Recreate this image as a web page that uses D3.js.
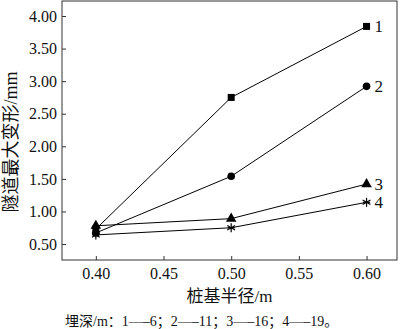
<!DOCTYPE html>
<html>
<head>
<meta charset="utf-8">
<script src="https://cdn.jsdelivr.net/npm/d3@7/dist/d3.min.js"></script>
<style>
  html, body { margin: 0; padding: 0; background: #fff; }
  svg { display: block; }
  svg text { font-family: "Liberation Serif", "DejaVu Serif", "Noto Sans CJK SC", serif !important; fill: #111; }
</style>
</head>
<body>
<svg id="chart" width="400" height="329"></svg>
<script>
// Pile radius (m) on the x axis
const radii = [0.40, 0.50, 0.60];
// Max tunnel deformation (mm) for each burial depth case
const series1 = [0.73, 2.75, 3.84]; // depth 6 m
const series2 = [0.67, 1.54, 2.92]; // depth 11 m
const series3 = [0.78, 0.89, 1.42]; // depth 16 m
const series4 = [0.64, 0.75, 1.14]; // depth 19 m
const seriesNames = ["1", "2", "3", "4"];
const markerTypes = ["square", "circle", "triangle", "asterisk"];
const xTicks = [0.40, 0.45, 0.50, 0.55, 0.60];
const yTicks = [0.50, 1.00, 1.50, 2.00, 2.50, 3.00, 3.50, 4.00];
const xTitle = "桩基半径/m";
const yTitle = "隧道最大变形/mm";
const note = "埋深/m：1—–6；2—–11；3—–16；4—–19。";

const allSeries = [series1, series2, series3, series4];

const svg = d3.select("#chart");
const plotLeft = 62, plotRight = 397, plotTop = 1, plotBottom = 260;

const x = d3.scaleLinear().domain([0.375, 0.6225]).range([plotLeft, plotRight]);
const y = d3.scaleLinear().domain([0.255, 4.23]).range([plotBottom, plotTop]);

// Axes with inward ticks
const xAxis = d3.axisBottom(x).tickValues(xTicks).tickFormat(d3.format(".2f")).tickSizeInner(-4).tickSizeOuter(0).tickPadding(8);
const yAxis = d3.axisLeft(y).tickValues(yTicks).tickFormat(d3.format(".2f")).tickSizeInner(-4).tickSizeOuter(0).tickPadding(5);

const gx = svg.append("g").attr("transform", `translate(0,${plotBottom})`).call(xAxis);
const gy = svg.append("g").attr("transform", `translate(${plotLeft},0)`).call(yAxis);
[gx, gy].forEach(g => {
  g.attr("font-family", null);
  g.select(".domain").remove();
  g.selectAll(".tick line").attr("stroke", "#333").attr("stroke-width", 1);
  g.selectAll(".tick text").style("font-size", "16px").attr("fill", "#111");
});

// Plot frame
svg.append("rect")
  .attr("x", plotLeft).attr("y", plotTop)
  .attr("width", plotRight - plotLeft).attr("height", plotBottom - plotTop)
  .attr("fill", "none").attr("stroke", "#333").attr("stroke-width", 1);

// Lines
const line = d3.line().x((d, i) => x(radii[i])).y(d => y(d));
const plot = svg.append("g");
allSeries.forEach(s => {
  plot.append("path").datum(s).attr("d", line)
    .attr("fill", "none").attr("stroke", "#000").attr("stroke-width", 1);
});

// Markers
function drawMarker(g, type, cx, cy) {
  if (type === "square") {
    g.append("rect").attr("x", cx - 3.5).attr("y", cy - 3.5).attr("width", 7).attr("height", 7).attr("fill", "#000");
  } else if (type === "circle") {
    g.append("circle").attr("cx", cx).attr("cy", cy).attr("r", 3.8).attr("fill", "#000");
  } else if (type === "triangle") {
    g.append("path").attr("d", d3.symbol().type(d3.symbolTriangle).size(48)()).attr("transform", `translate(${cx},${cy})`).attr("fill", "#000");
  } else {
    const r = 4.5;
    [0, 60, 120].forEach(a => {
      const rad = a * Math.PI / 180 + Math.PI / 2;
      g.append("line")
        .attr("x1", cx - r * Math.cos(rad)).attr("y1", cy - r * Math.sin(rad))
        .attr("x2", cx + r * Math.cos(rad)).attr("y2", cy + r * Math.sin(rad))
        .attr("stroke", "#000").attr("stroke-width", 1.2);
    });
    g.append("line").attr("x1", cx - 3.5).attr("x2", cx + 3.5).attr("y1", cy).attr("y2", cy).attr("stroke", "#000").attr("stroke-width", 1.2);
  }
}
allSeries.forEach((s, k) => {
  s.forEach((v, i) => drawMarker(plot, markerTypes[k], x(radii[i]), y(v)));
  // Series number next to the last point
  plot.append("text")
    .attr("x", x(radii[radii.length - 1]) + 8)
    .attr("y", y(s[s.length - 1]))
    .attr("dy", "0.35em")
    .style("font-size", "17px")
    .text(seriesNames[k]);
});

// Axis titles
svg.append("text")
  .attr("x", (plotLeft + plotRight) / 2).attr("y", 302)
  .attr("text-anchor", "middle")
  .style("font-size", "17px")
  .text(xTitle);

svg.append("text")
  .attr("transform", `translate(17,142) rotate(-90)`)
  .attr("text-anchor", "middle")
  .style("font-size", "18px")
  .text(yTitle);

// Note below the chart
svg.append("text")
  .attr("x", 65).attr("y", 326)
  .style("font-size", "14px")
  .text(note);
</script>
</body>
</html>
